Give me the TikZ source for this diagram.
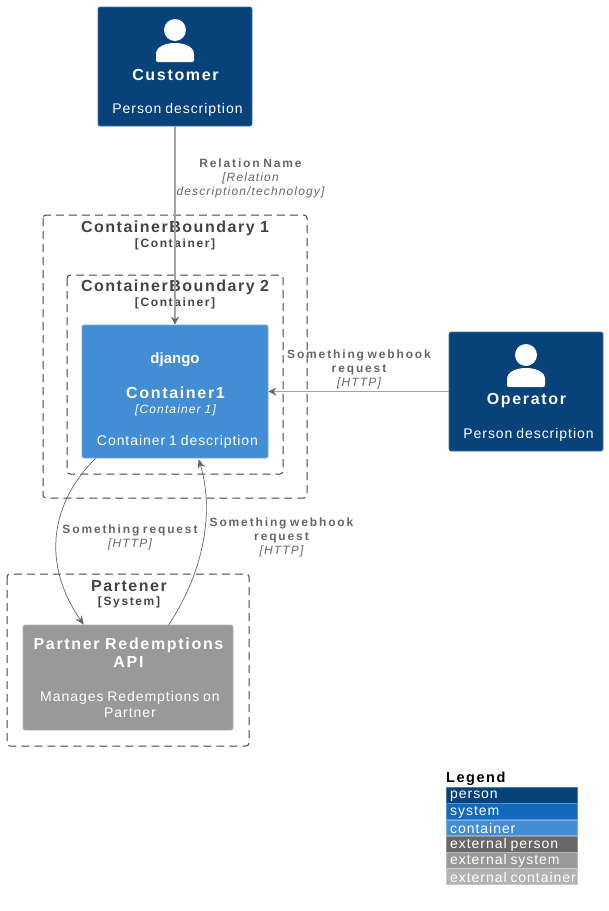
\documentclass[tikz,border=0pt]{standalone}
\usepackage{fontspec}
\usetikzlibrary{arrows.meta}
\setmainfont{Liberation Sans}
\newfontfamily\titlefont[LetterSpace=10.5,WordSpace=.9]{Liberation Sans}
\newfontfamily\boundfont[LetterSpace=9.5,WordSpace=.9]{Liberation Sans}
\newfontfamily\descfont[LetterSpace=6.8,WordSpace=.8]{Liberation Sans}
\newfontfamily\relfont[LetterSpace=15.5,WordSpace=.7]{Liberation Sans}
\newfontfamily\typefont[LetterSpace=13.5]{Liberation Sans}
\newfontfamily\techfont[LetterSpace=9.5,WordSpace=.9]{Liberation Sans}
\definecolor{personblue}{HTML}{08427B}
\definecolor{systemblue}{HTML}{1168BD}
\definecolor{containerblue}{HTML}{438DD5}
\definecolor{extperson}{HTML}{686868}
\definecolor{extsystem}{HTML}{999999}
\definecolor{extcontainer}{HTML}{B3B3B3}
\definecolor{boundcol}{HTML}{444444}
\definecolor{relcol}{HTML}{666666}
\tikzset{
  boxnode/.style={draw=#1!75!white,fill=#1,line width=.6pt,rounded corners=2pt,inner sep=0pt},
  boundbox/.style={draw=boundcol,line width=1pt,dash pattern=on 8pt off 5pt,rounded corners=3pt},
  titletxt/.style={text=white,align=center,font=\titlefont\bfseries\fontsize{16}{18.5}\selectfont},
  desctxt/.style={text=white,align=center,font=\descfont\fontsize{14}{16}\selectfont},
  techtxt/.style={text=white,font=\techfont\itshape\fontsize{12}{14}\selectfont},
  boundtitle/.style={text=boundcol,font=\boundfont\bfseries\fontsize{16}{18}\selectfont},
  boundtype/.style={text=boundcol,font=\typefont\bfseries\fontsize{12}{14}\selectfont},
  reltxt/.style={text=relcol,align=center,font=\relfont\fontsize{12}{14}\selectfont},
  relline/.style={draw=relcol!60!white,line width=1.2pt,-{Stealth[length=8pt,width=8pt,fill=relcol,color=relcol]}},
  relcurve/.style={draw=relcol,line width=.7pt,-{Stealth[length=9pt,width=7.5pt,fill=relcol]}},
  legbar/.style={fill=#1,draw=#1!70!white,line width=.4pt,minimum width=131pt,minimum height=15.6pt,inner sep=0pt,anchor=north west},
  personicon/.pic={
    \fill[white] (0,0) circle (11);
    \fill[white] (-17,32) -- (17,32) .. controls (18.2,32) and (19,31.2) .. (19,30) -- (19,24)
      .. controls (19,17) and (10,13) .. (0,13) .. controls (-10,13) and (-19,17) .. (-19,24)
      -- (-19,30) .. controls (-19,31.2) and (-18.2,32) .. (-17,32) -- cycle;
  }
}
\newcommand{\relname}[1]{{\bfseries #1}}
\newcommand{\reltech}[1]{{\techfont\itshape #1}}
\begin{document}
\begin{tikzpicture}[x=1pt,y=-1pt,line join=round,>=Stealth]
	\useasboundingbox (0,0) rectangle (609,911);
	% boundaries
	\draw[boundbox] (43,215) rectangle (307,498);
	\draw[boundbox] (67,275) rectangle (283,474);
	\draw[boundbox] (7,574) rectangle (249,746);
	\foreach \n/\y/\t/\k in {bone/228/ContainerBoundary 1/Container,btwo/287/ContainerBoundary 2/Container,bthree/586/Partener/System}{
		\pgfmathsetmacro{\xx}{\y>500 ? 129 : 175}
		\node[boundtitle] (\n) at (\xx,\y) {\t};
		\node[boundtype] (\n type) at (\xx,\y+16) {[\k]};
	}
	% boxes
	\node[boxnode=personblue,minimum width=154pt,minimum height=119pt] (customer) at (175,66.5) {};
	\node[boxnode=personblue,minimum width=154pt,minimum height=119pt] (operator) at (526,391.5) {};
	\node[boxnode=containerblue,minimum width=186pt,minimum height=133pt] (container1) at (175,391.5) {};
	\node[boxnode=extsystem,minimum width=210pt,minimum height=105pt] (partner) at (128,677.5) {};
	\path (175,30) pic {personicon} (526,355) pic {personicon};
	% box texts
	\node[titletxt] (customername) at (175.5,75) {Customer};
	\node[desctxt] (customerdesc) at (177.5,110) {Person description};
	\node[titletxt] (operatorname) at (526.5,401) {Operator};
	\node[desctxt] (operatordesc) at (528.5,435) {Person description};
	\node[text=white,font=\bfseries\fontsize{15}{17}\selectfont] (djangologo) at (175,360) {django};
	\node[titletxt] (containername) at (175.5,393) {Container1};
	\node[techtxt] (containertech) at (175.5,410) {[Container 1]};
	\node[desctxt] (containerdesc) at (177.5,442) {Container 1 description};
	\node[titletxt] (partnername) at (128.5,652.5) {Partner Redemptions\\API};
	\node[desctxt] (partnerdesc) at (130,704) {Manages Redemptions on\\Partner};
	% relations
	\draw[relline] (customer) -- (container1);
	\draw[relline] (operator) -- (container1);
	\draw[relcurve] ([xshift=14pt]container1.south west) .. controls (58,495) and (36,555) .. ([xshift=61pt]partner.north west);
	\draw[relcurve] ([xshift=146pt]partner.north west) .. controls (205,570) and (214,510) .. ([xshift=117pt,yshift=-1pt]container1.south west);
	\node[reltxt] (relone) at (250.5,178.5) {\relname{Relation Name}\\\reltech{[Relation}\\\reltech{description/technology]}};
	\node[reltxt] (reltwo) at (359,369) {\relname{Something webhook}\\\relname{request}\\\reltech{[HTTP]}};
	\node[reltxt] (relthree) at (130,537.5) {\relname{Something request}\\\reltech{[HTTP]}};
	\node[reltxt] (relfour) at (281.5,537.5) {\relname{Something webhook}\\\relname{request}\\\reltech{[HTTP]}};
	% legend
	\node[anchor=west,text=black,font=\titlefont\bfseries\fontsize{14.5}{16}\selectfont,inner sep=0pt] (legendtitle) at (446,779) {Legend};
	\foreach \n/\c/\t/\y in {lperson/personblue/person/787,lsystem/systemblue/system/803.3,lcontainer/containerblue/container/819.6,lextperson/extperson/external person/836,lextsystem/extsystem/external system/852.3,lextcontainer/extcontainer/external container/868.4}
	\node[legbar=\c,text=white] (\n) at (446,\y) {};
	\foreach \n/\t in {lperson/person,lsystem/system,lcontainer/container,lextperson/external person,lextsystem/external system,lextcontainer/external container}
	\node[anchor=west,text=white,inner sep=0pt,font=\descfont\fontsize{14}{16}\selectfont] (\n text) at ([xshift=4pt,yshift=-1pt]\n.west) {\t};
\end{tikzpicture}
\end{document}
